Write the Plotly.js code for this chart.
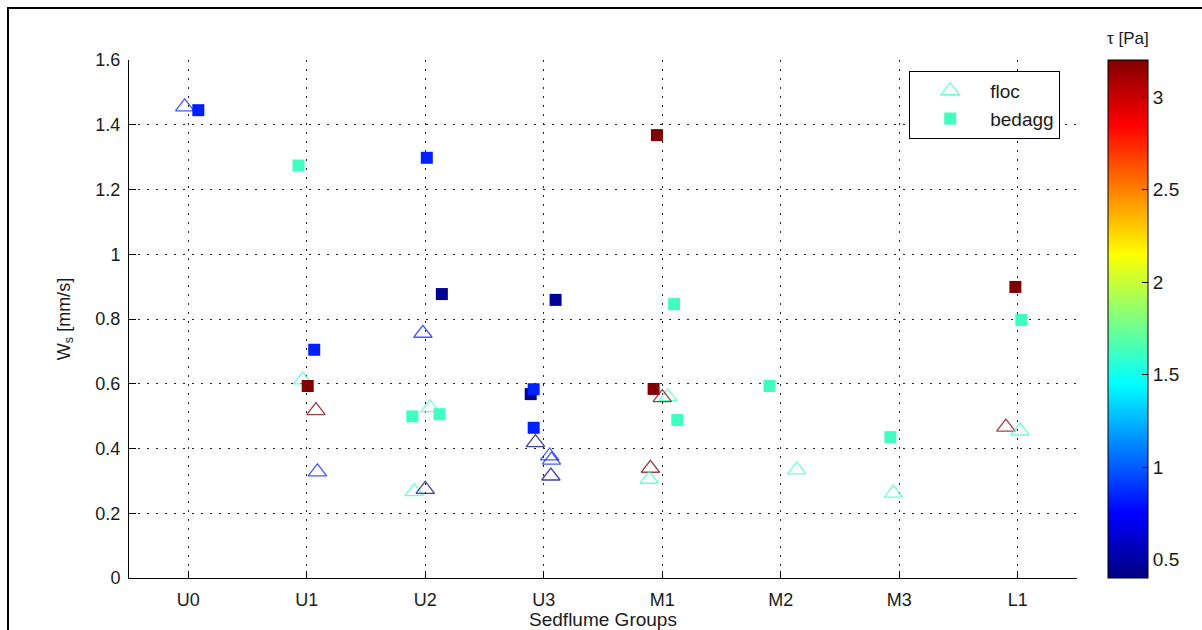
<!DOCTYPE html>
<html>
<head>
<meta charset="utf-8">
<script src="https://cdn.plot.ly/plotly-3.0.1.min.js"></script>
<style>
  html, body { margin: 0; padding: 0; background: #fff; overflow: hidden; }
  #wrap { position: relative; width: 1202px; height: 630px; }
  #chart { position: absolute; left: 0; top: 0; width: 1202px; height: 630px; }
  #frame { position: absolute; left: 7px; top: 7px; width: 1400px; height: 800px;
           border-left: 2px solid #000; border-top: 2px solid #000; pointer-events: none; }
</style>
</head>
<body>
<div id="wrap">
  <div id="chart"></div>
  <div id="frame"></div>
</div>
<script>
// Categories (Sedflume groups)
const categories = ['U0', 'U1', 'U2', 'U3', 'M1', 'M2', 'M3', 'L1'];

// floc measurements: group index, jitter offset within group, Ws [mm/s], tau [Pa]
const flocGroup  = [0,     1,     1,     1,     2,     2,     2,      2,    3,     3,     3,     3,     4,     4,     4,    4,     5,     6,     7,    7];
const flocOffset = [-0.03, -0.035, 0.078, 0.09, -0.02, 0.04, -0.094, 0.0,  -0.07, 0.05,  0.065, 0.06,  0.048, 0.0,  -0.1, -0.11, 0.135, -0.05, -0.1, 0.02];
const flocWs     = [1.455, 0.612, 0.517, 0.328, 0.756, 0.526, 0.267, 0.274, 0.418, 0.377, 0.364, 0.315, 0.56, 0.557, 0.339, 0.305, 0.334, 0.262, 0.466, 0.454];
const flocTau    = [0.84,  1.62,  3.2,   0.84,  0.84,  1.62,  1.62,  0.45,  0.45,  0.84,  0.84,  0.45,  1.62, 3.2,   3.2,   1.62,  1.62,  1.62,  3.2,   1.62];

// bedagg measurements
const bedGroup  = [0,     1,     1,     1,     2,     2,     2,      2,     3,     3,     3,      3,     4,     4,     4,      4,     5,      6,      7,     7];
const bedOffset = [0.085, -0.07, 0.063, 0.008, 0.013, 0.14,  -0.109, 0.12,  0.1,   -0.11, -0.085, -0.085, -0.045, 0.1,  -0.073, 0.127, -0.095, -0.075, -0.02, 0.03];
const bedWs     = [1.445, 1.274, 0.705, 0.593, 1.298, 0.877, 0.499,  0.506, 0.859, 0.568, 0.583,  0.464, 1.368, 0.846, 0.584,  0.488, 0.593,  0.435,  0.899, 0.797];
const bedTau    = [0.84,  1.62,  0.84,  3.2,   0.84,  0.45,  1.62,   1.62,  0.45,  0.45,  0.84,   0.84,  3.2,   1.62,  3.2,    1.62,  1.62,   1.62,   3.2,   1.62];

const yTicks = [0, 0.2, 0.4, 0.6, 0.8, 1, 1.2, 1.4, 1.6];
const cbTicks = [0.5, 1, 1.5, 2, 2.5, 3];
const tauMin = 0.4, tauMax = 3.2;
const legendColor = '#40FFBF';

const jet = [[0, '#000080'], [0.125, '#0000FF'], [0.375, '#00FFFF'],
             [0.625, '#FFFF00'], [0.875, '#FF0000'], [1, '#800000']];

const flocX = flocGroup.map((g, i) => g + flocOffset[i]);
const bedX = bedGroup.map((g, i) => g + bedOffset[i]);
const font = 'Liberation Sans, Arial, sans-serif';
const txt = '#1a1a1a';

const traces = [
  {
    type: 'scatter', mode: 'markers', x: flocX, y: flocWs, showlegend: false,
    marker: { symbol: 'triangle-up-open', size: 16, color: flocTau, colorscale: jet,
              cmin: tauMin, cmax: tauMax, line: { width: 1.3 }, opacity: 0.75, showscale: false }
  },
  {
    type: 'scatter', mode: 'markers', x: bedX, y: bedWs, showlegend: false,
    marker: { symbol: 'square', size: 12, color: bedTau, colorscale: jet,
              cmin: tauMin, cmax: tauMax, line: { width: 0 }, showscale: true,
              colorbar: {
                x: 1.0327, xanchor: 'left', y: 0.5, yanchor: 'middle',
                len: 1, lenmode: 'fraction', thickness: 40, thicknessmode: 'pixels',
                outlinewidth: 1, outlinecolor: '#000',
                tickvals: cbTicks, ticks: 'inside', ticklen: 6, tickcolor: '#000',
                tickfont: { family: font, size: 19, color: txt },
                xpad: 0, ypad: 0
              } }
  },
  {
    type: 'scatter', mode: 'markers', x: [null], y: [null], name: 'floc',
    marker: { symbol: 'triangle-up-open', size: 16, color: legendColor, line: { width: 1.3 }, opacity: 0.8 }
  },
  {
    type: 'scatter', mode: 'markers', x: [null], y: [null], name: 'bedagg',
    marker: { symbol: 'square', size: 12, color: legendColor }
  }
];

const layout = {
  width: 1202, height: 630,
  margin: { l: 129, r: 125, t: 60, b: 52 },
  paper_bgcolor: '#fff', plot_bgcolor: '#fff',
  font: { family: font, size: 18, color: txt },
  xaxis: {
    range: [-0.5, 7.5], tickvals: categories.map((c, i) => i), ticktext: categories,
    showline: true, linecolor: '#000', linewidth: 1, mirror: false,
    ticks: 'inside', ticklen: 7, tickcolor: '#000', ticklabelstandoff: 5,
    showgrid: true, gridcolor: '#222', gridwidth: 1, griddash: '2px,7px',
    zeroline: false, tickfont: { family: font, size: 18, color: txt },
    title: { text: 'Sedflume Groups', standoff: 2, font: { family: font, size: 19, color: txt } }
  },
  yaxis: {
    range: [0, 1.6], tickvals: yTicks, ticktext: yTicks.map(v => String(v)),
    showline: true, linecolor: '#000', linewidth: 1, mirror: false,
    ticks: 'inside', ticklen: 7, tickcolor: '#000', ticklabelstandoff: 4,
    showgrid: true, gridcolor: '#222', gridwidth: 1, griddash: '2px,7px',
    zeroline: false, tickfont: { family: font, size: 18, color: txt },
    title: { text: 'W<sub>s</sub> [mm/s]', standoff: 20, font: { family: font, size: 18, color: txt } }
  },
  legend: {
    x: 0.823, y: 0.979, xanchor: 'left', yanchor: 'top',
    bordercolor: '#000', borderwidth: 1, bgcolor: '#fff',
    font: { family: font, size: 19, color: txt },
    itemwidth: 70, tracegroupgap: 0
  },
  annotations: [{
    text: 'τ [Pa]', xref: 'paper', yref: 'paper', x: 1.0327 + 20 / 948, y: 1,
    xanchor: 'center', yanchor: 'bottom', yshift: 10, showarrow: false,
    font: { family: font, size: 17, color: txt }
  }],
  showlegend: true
};

Plotly.newPlot('chart', traces, layout, { staticPlot: true, displayModeBar: false });
</script>
</body>
</html>
